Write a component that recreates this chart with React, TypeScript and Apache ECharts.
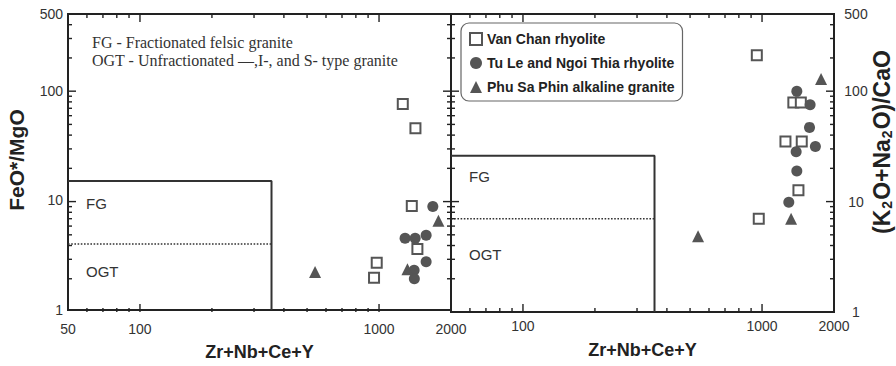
import React, { useEffect, useRef } from "react";
import * as echarts from "echarts";

// Axis ranges shared by both discrimination diagrams (log–log)
const X_MIN = 50;
const X_MAX = 2000;
const Y_MIN = 1;
const Y_MAX = 500;

const SERIES_NAMES = [
  "Van Chan rhyolite",
  "Tu Le and Ngoi Thia rhyolite",
  "Phu Sa Phin alkaline granite",
];

// FeO*/MgO vs Zr+Nb+Ce+Y
const vanChanFeMg = [
  [1257, 75.5], [1420, 45.3], [1371, 8.9], [1447, 3.6], [978, 2.7], [953, 1.97],
];
const tuLeFeMg = [
  [1679, 8.8], [1285, 4.5], [1416, 4.5], [1574, 4.8], [1574, 2.75], [1402, 2.3], [1405, 1.93],
];
const phuSaPhinFeMg = [[540, 2.22], [1315, 2.35], [1772, 6.5]];

// (K2O+Na2O)/CaO vs Zr+Nb+Ce+Y
const vanChanAlkCa = [
  [951, 211], [1352, 79], [1453, 79], [1253, 35], [1466, 35], [1420, 12.7], [969, 7.0],
];
const tuLeAlkCa = [
  [1398, 100], [1589, 75.5], [1580, 47], [1389, 28.3], [1672, 31.5], [1398, 18.9], [1294, 9.85],
];
const phuSaPhinAlkCa = [[1766, 129], [1323, 7.0], [540, 4.86]];

// FG / OGT field boundaries
const FIELD_X = 355;
const FG_TOP_FEMG = 15;
const FG_OGT_FEMG = 4;
const FG_TOP_ALKCA = 26;
const FG_OGT_ALKCA = 7;

// Log-axis tick marks
const X_MAJOR_TICKS = [100, 1000];
const X_MINOR_TICKS = [60, 70, 80, 90, 200, 300, 400, 500, 600, 700, 800, 900];
const Y_MAJOR_TICKS = [10, 100];
const Y_MINOR_TICKS = [2, 3, 4, 5, 6, 7, 8, 9, 20, 30, 40, 50, 60, 70, 80, 90, 200, 300, 400];

const SANS = "'Liberation Sans', Arial, sans-serif";
const SERIF = "'Liberation Serif', 'Times New Roman', serif";
const INK = "#222";
const MARK = "#555";

const GRID_LEFTS = [68, 451];
const GRID_TOP = 14;
const GRID_W = 383;
const GRID_H = 298;

const MAJOR_LEN = 8;
const MINOR_LEN = 4;
const TICK_W = 1.4;

// Position of a value along a panel's log axes, in the same frame as the grids
const xPix = (g: number, v: number) =>
  GRID_LEFTS[g] + (GRID_W * Math.log10(v / X_MIN)) / Math.log10(X_MAX / X_MIN);
const yPix = (v: number) =>
  GRID_TOP + GRID_H - (GRID_H * Math.log10(v / Y_MIN)) / Math.log10(Y_MAX / Y_MIN);

// Inward tick marks on all four sides of a panel
function tickGraphics(g: number) {
  const out: any[] = [];
  const left = GRID_LEFTS[g];
  const bottom = GRID_TOP + GRID_H;
  const rect = (x: number, y: number, width: number, height: number) => ({
    type: "rect",
    z: 100,
    silent: true,
    shape: { x, y, width, height },
    style: { fill: INK },
  });
  const xTicks = [
    ...X_MAJOR_TICKS.map((v) => [v, MAJOR_LEN]),
    ...X_MINOR_TICKS.map((v) => [v, MINOR_LEN]),
  ];
  const yTicks = [
    ...Y_MAJOR_TICKS.map((v) => [v, MAJOR_LEN]),
    ...Y_MINOR_TICKS.map((v) => [v, MINOR_LEN]),
  ];
  xTicks.forEach(([v, len]) => {
    const x = xPix(g, v) - TICK_W / 2;
    out.push(rect(x, bottom - len, TICK_W, len));
    out.push(rect(x, GRID_TOP, TICK_W, len));
  });
  yTicks.forEach(([v, len]) => {
    const y = yPix(v) - TICK_W / 2;
    out.push(rect(left, y, len, TICK_W));
    out.push(rect(left + GRID_W - len, y, len, TICK_W));
  });
  return out;
}

function fieldSeries(gridIndex: number, topVal: number, split: number) {
  return [
    {
      type: "line",
      xAxisIndex: gridIndex,
      yAxisIndex: gridIndex,
      silent: true,
      symbol: "none",
      data: [[X_MIN, topVal], [FIELD_X, topVal], [FIELD_X, Y_MIN]],
      lineStyle: { color: "#333", width: 2 },
    },
    {
      type: "line",
      xAxisIndex: gridIndex,
      yAxisIndex: gridIndex,
      silent: true,
      symbol: "none",
      data: [[X_MIN, split], [FIELD_X, split]],
      lineStyle: { color: "#333", width: 1.6, type: [1.6, 1.6] },
    },
  ];
}

function sampleSeries(gridIndex: number, sets: number[][][]) {
  return [
    {
      name: SERIES_NAMES[0],
      type: "scatter",
      xAxisIndex: gridIndex,
      yAxisIndex: gridIndex,
      symbol: "rect",
      symbolSize: 10,
      itemStyle: { color: "#fff", borderColor: MARK, borderWidth: 2, opacity: 1 },
      data: sets[0],
      z: 5,
    },
    {
      name: SERIES_NAMES[1],
      type: "scatter",
      xAxisIndex: gridIndex,
      yAxisIndex: gridIndex,
      symbol: "circle",
      symbolSize: 11,
      itemStyle: { color: MARK, opacity: 1 },
      data: sets[1],
      z: 5,
    },
    {
      name: SERIES_NAMES[2],
      type: "scatter",
      xAxisIndex: gridIndex,
      yAxisIndex: gridIndex,
      symbol: "triangle",
      symbolSize: 12,
      itemStyle: { color: MARK, opacity: 1 },
      data: sets[2],
      z: 5,
    },
  ];
}

const fmt = (v: number) => String(Math.round(v));

function xAxis(gridIndex: number, showMin: boolean, margin: number, nameGap: number) {
  return {
    type: "log",
    logBase: 10,
    gridIndex,
    min: X_MIN,
    max: X_MAX,
    name: "Zr+Nb+Ce+Y",
    nameLocation: "middle",
    nameGap,
    nameTextStyle: { fontFamily: SANS, fontWeight: "bold", fontSize: 18, color: INK },
    axisLine: { show: false },
    axisTick: { show: false },
    splitLine: { show: false },
    axisLabel: {
      showMinLabel: showMin,
      showMaxLabel: true,
      margin,
      fontFamily: SANS,
      fontSize: 14,
      color: "#333",
      formatter: fmt,
    },
  };
}

function yAxis(gridIndex: number, position: "left" | "right") {
  return {
    type: "log",
    logBase: 10,
    gridIndex,
    position,
    min: Y_MIN,
    max: Y_MAX,
    axisLine: { show: false },
    axisTick: { show: false },
    splitLine: { show: false },
    axisLabel: {
      showMinLabel: true,
      showMaxLabel: true,
      margin: position === "left" ? 5 : 22,
      align: position === "left" ? "right" : "center",
      fontFamily: SANS,
      fontSize: 14,
      color: "#333",
      formatter: fmt,
    },
  };
}

export default function App() {
  const ref = useRef<HTMLDivElement>(null);

  useEffect(() => {
    if (!ref.current) return;
    const chart = echarts.init(ref.current, undefined, { renderer: "svg" });

    const gridBase = {
      top: GRID_TOP,
      height: GRID_H,
      width: GRID_W,
      show: true,
      borderColor: INK,
      borderWidth: 2,
      backgroundColor: "transparent",
    };

    const fieldLabel = (x: number, y: number, text: string) => ({
      type: "text",
      x,
      y,
      style: {
        text,
        fontFamily: SANS,
        fontSize: 15,
        fill: "#333",
        verticalAlign: "middle",
      },
    });

    chart.setOption({
      animation: false,
      backgroundColor: "#fff",
      grid: [
        { ...gridBase, left: GRID_LEFTS[0] },
        { ...gridBase, left: GRID_LEFTS[1] },
      ],
      xAxis: [xAxis(0, true, 12, 33), xAxis(1, false, 7, 29)],
      yAxis: [yAxis(0, "left"), yAxis(1, "right")],
      legend: {
        data: SERIES_NAMES,
        orient: "vertical",
        left: 461,
        top: 23,
        itemWidth: 12,
        itemHeight: 12,
        itemGap: 10,
        padding: [9, 8, 7, 8],
        borderColor: "#666",
        borderWidth: 1.2,
        borderRadius: 8,
        backgroundColor: "#fff",
        textStyle: { fontFamily: SANS, fontWeight: "bold", fontSize: 14, color: INK },
      },
      graphic: [
        ...tickGraphics(0),
        ...tickGraphics(1),
        {
          type: "text",
          x: 92,
          y: 42,
          style: {
            text: "FG - Fractionated felsic granite",
            fontFamily: SERIF,
            fontSize: 16,
            fill: "#333",
            verticalAlign: "middle",
          },
        },
        {
          type: "text",
          x: 92,
          y: 60,
          style: {
            text: "OGT - Unfractionated \u2014,I-, and S- type granite",
            fontFamily: SERIF,
            fontSize: 16,
            fill: "#333",
            verticalAlign: "middle",
          },
        },
        fieldLabel(86, 203, "FG"),
        fieldLabel(86, 271, "OGT"),
        fieldLabel(469, 176, "FG"),
        fieldLabel(469, 254, "OGT"),
        {
          type: "text",
          x: 16,
          y: 160,
          rotation: Math.PI / 2,
          style: {
            text: "FeO*/MgO",
            fontFamily: SANS,
            fontWeight: "bold",
            fontSize: 21,
            fill: INK,
            align: "center",
            verticalAlign: "middle",
          },
        },
        {
          type: "text",
          x: 882,
          y: 142,
          rotation: Math.PI / 2,
          style: {
            text: "(K{s|2}O+Na{s|2}O)/CaO",
            fontFamily: SANS,
            fontWeight: "bold",
            fontSize: 23,
            fill: INK,
            align: "center",
            verticalAlign: "middle",
            rich: {
              s: {
                fontFamily: SANS,
                fontWeight: "bold",
                fontSize: 14,
                fill: INK,
                verticalAlign: "bottom",
                padding: [10, 1, 0, 1],
              },
            },
          },
        },
      ],
      series: [
        ...fieldSeries(0, FG_TOP_FEMG, FG_OGT_FEMG),
        ...fieldSeries(1, FG_TOP_ALKCA, FG_OGT_ALKCA),
        ...sampleSeries(0, [vanChanFeMg, tuLeFeMg, phuSaPhinFeMg]),
        ...sampleSeries(1, [vanChanAlkCa, tuLeAlkCa, phuSaPhinAlkCa]),
      ],
    });

    return () => chart.dispose();
  }, []);

  return (
    <div
      ref={ref}
      style={{ position: "fixed", left: 0, top: 0, width: 896, height: 366 }}
    />
  );
}
